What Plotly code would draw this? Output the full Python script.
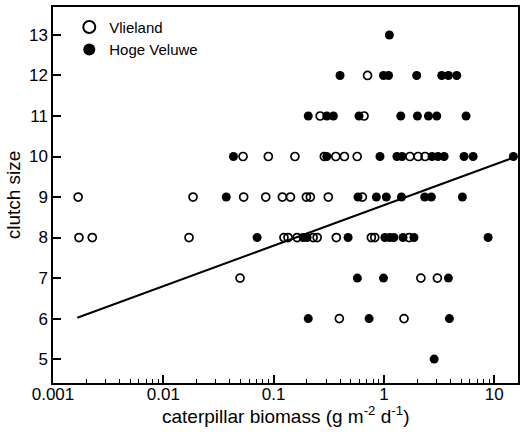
import plotly.graph_objects as go
import numpy as np

# Vlieland (open circles)
vl_x = [0.00169, 0.0186, 0.0535, 0.0848, 0.120, 0.142, 0.198, 0.215, 0.313, 0.637,   # 9
        0.00172, 0.00227, 0.0171, 0.124, 0.135, 0.163, 0.228, 0.248, 0.370, 0.769, 0.825, 1.69,  # 8
        0.0528, 0.0895, 0.156, 0.288, 0.366, 0.438, 0.572, 1.72, 2.04, 2.36,  # 10
        0.264, 0.66,  # 11
        0.71,  # 12
        0.0496, 2.16, 3.05,  # 7
        0.394, 1.52]  # 6
vl_y = [9, 9, 9, 9, 9, 9, 9, 9, 9, 9,
        8, 8, 8, 8, 8, 8, 8, 8, 8, 8, 8, 8,
        10, 10, 10, 10, 10, 10, 10, 10, 10, 10,
        11, 11,
        12,
        7, 7, 7,
        6, 6]

# Hoge Veluwe (filled circles)
hv_x = [1.12,  # 13
        0.40, 0.99, 1.10, 1.98, 3.34, 3.84, 4.57,  # 12
        0.206, 0.303, 0.348, 0.594, 1.42, 2.01, 2.53, 3.01, 5.55,  # 11
        0.0432, 0.303, 0.92, 1.31, 1.46, 2.73, 3.09, 3.51, 5.32, 6.43, 14.9,  # 10
        0.0372, 0.582, 0.853, 1.05, 1.44, 2.34, 2.69, 5.14,  # 9
        0.0708, 0.185, 0.201, 0.473, 1.02, 1.13, 1.23, 1.49, 1.87, 8.79,  # 8
        0.574, 0.99, 3.84,  # 7
        0.206, 0.733, 3.92,  # 6
        2.85]  # 5
hv_y = [13,
        12, 12, 12, 12, 12, 12, 12,
        11, 11, 11, 11, 11, 11, 11, 11, 11,
        10, 10, 10, 10, 10, 10, 10, 10, 10, 10, 10,
        9, 9, 9, 9, 9, 9, 9, 9,
        8, 8, 8, 8, 8, 8, 8, 8, 8, 8,
        7, 7, 7,
        6, 6, 6,
        5]

# regression: clutch = intercept + slope * log10(biomass)
fit_intercept = 8.80
fit_slope = 1.0
fit_x = [0.00166, 14.9]
fit_y = [fit_intercept + fit_slope * np.log10(v) for v in fit_x]

x_tickvals = [0.001, 0.01, 0.1, 1, 10]
x_ticktext = ["0.001", "0.01", "0.1", "1", "10"]
y_tickvals = [5, 6, 7, 8, 9, 10, 11, 12, 13]
x_title = "caterpillar biomass (g m<sup>-2</sup> d<sup>-1</sup>)"

fig = go.Figure()
fig.add_trace(go.Scatter(x=fit_x, y=fit_y, mode="lines",
                         line=dict(color="black", width=2), showlegend=False,
                         hoverinfo="skip"))
fig.add_trace(go.Scatter(x=vl_x, y=vl_y, mode="markers", name="Vlieland",
                         marker=dict(symbol="circle-open", size=8, color="black",
                                     line=dict(width=1.7, color="black"))))
fig.add_trace(go.Scatter(x=hv_x, y=hv_y, mode="markers", name="Hoge Veluwe",
                         marker=dict(symbol="circle", size=9, color="black")))

font_family = "Liberation Sans, Arial, sans-serif"
fig.update_layout(
    width=531, height=436,
    margin=dict(l=53, r=13, t=5, b=53),
    paper_bgcolor="white", plot_bgcolor="white",
    font=dict(family=font_family, color="black", size=17),
    legend=dict(x=0.035, y=0.99, xanchor="left", yanchor="top",
                bgcolor="rgba(0,0,0,0)", font=dict(size=15),
                itemsizing="constant", tracegroupgap=0, itemwidth=30),
    annotations=[dict(text=x_title, xref="paper", yref="paper", x=0.5, y=0,
                      xanchor="center", yanchor="middle", yshift=-32,
                      showarrow=False, font=dict(size=19))],
)
fig.update_xaxes(type="log", range=[-3, 1.215],
                 tickvals=x_tickvals, ticktext=x_ticktext,
                 ticks="inside", ticklen=8, tickwidth=1.5, tickcolor="black",
                 showline=True, linecolor="black", linewidth=1.5, mirror=True,
                 showgrid=False, zeroline=False, ticklabelstandoff=-5,
                 minor=dict(ticks="inside", ticklen=4, tickwidth=1, tickcolor="black",
                            dtick="D1", showgrid=False),
                 tickfont=dict(size=17))
fig.update_yaxes(range=[4.41, 13.69], tickvals=y_tickvals,
                 ticks="inside", ticklen=8, tickwidth=1.5, tickcolor="black",
                 showline=True, linecolor="black", linewidth=1.5, mirror=True,
                 showgrid=False, zeroline=False,
                 title=dict(text="clutch size", font=dict(size=19), standoff=3),
                 tickfont=dict(size=17))

fig.write_html("out.html")
